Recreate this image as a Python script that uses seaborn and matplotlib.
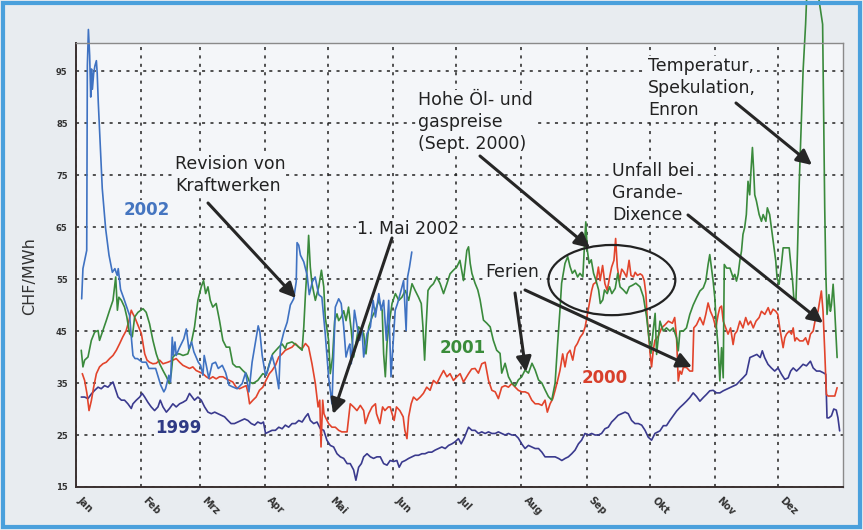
import matplotlib
matplotlib.use('Agg')
import matplotlib.pyplot as plt
import seaborn as sns
import pandas as pd
from matplotlib.patches import Ellipse, Rectangle

# ---------------- data (day of year, CHF/MWh) ----------------
days_2002 = [2.7,3.3,4.6,5.1,5.4,5.9,6.5,7,7.4,7.8,8.4,9,9.7,10.1,10.6,11.4,12.5,14.1,15.7,17.3,18.5,19.6,20.1,21.2,22.8,24.4,25.5,26.5,27.1,28.1,29.2,31.5,33.4,34.7,37.9,40.3,41.8,42.6,44.2,45,45.8,46.3,47.1,47.7,49,51.3,52.5,53.7,55,56.1,58.2,59.3,60.4,61,62,63.2,64.8,66.4,67.7,69.6,71.2,72.8,74.3,76.7,79.1,80.7,82.3,83.8,85.4,86.7,87.5,88.6,90.2,91,93.3,94.9,96.5,97.3,98.9,100.5,102,103.6,104.8,105.2,106,106.8,108.4,110,111,112.5,113.8,115.5,117,118.6,120.2,121.8,123.4,125,126.2,127.4,128.5,129.7,130.3,131,132.5,133.8,135,136,136.9,138.5,140.1,141.4,142.5,144.1,145.2,146.4,147.7,148.8,149.9,150.8,151.9,153,154.3,155.9,157.1,157.8,158.7,159.8]
vals_2002 = [51.2,57,59.6,60.5,96,103,98,90,95.4,91.5,94.5,96,97,94.5,89,82,72.4,64.7,59.6,56.3,57,55.7,57,53,51.2,49.3,48,43,40.3,39.7,39.7,39,39,37.8,37.8,34.6,33.3,33.9,36.5,35.2,43.8,40.3,42.9,40.3,41.6,43.5,45.4,41.6,42.9,41,39,38.4,36.5,40.3,38.4,35.9,38.7,39,37.8,38.4,37,34.6,34.3,33.9,34.9,37,33.3,39,42.9,46,44.8,40.3,36.5,37.1,40.3,37.8,33.9,42.2,44.8,46.7,50,51.2,54.5,62,61.5,59.6,58.3,55.7,52,54.5,55.4,52,51.5,44.5,36.2,31.0,49.6,51.2,50.3,45.8,40,41.9,42.5,38.7,49,45.8,43.2,45.8,40,44.5,45.8,50.9,47.7,52.2,49,50.9,43.2,50.9,36.2,41.9,49,50.3,52.2,54.7,45.1,55.4,57.3,60.2]

days_2001 = [2.5,3.3,4.1,5.7,7.3,8.9,10.5,11.2,12.8,14.4,16,17.6,18.9,19.7,20.4,21.6,23.1,24.2,25.5,26.8,27.9,29.5,31.9,33.4,35,36.6,38.2,39.8,41.4,43,44.5,45.3,46.1,47.7,49.3,50.9,53.2,54.8,56.4,58,59.6,60.7,61.7,62.8,63.9,65.1,66.7,68.3,69.9,71.5,73.1,74.6,76.2,77.8,79.4,81,82.6,84.2,86.5,88.9,90.5,92,93.6,96.5,98.1,99.6,100.4,102.8,105.2,107.6,108.4,109.2,110,110.7,111.5,112.3,113.9,115.5,116.8,117.9,118.6,120.2,121,122.1,123.1,124.2,125,126.2,127.4,128.5,129.7,131,132.1,133.2,134.5,135.8,136.9,138,139.3,140.9,142.5,144.1,145.7,146.4,147.2,148,148.8,150.4,152,153.6,155.1,156.7,158.3,159.9,161.4,163,164.3,165.1,165.9,166.6,167.5,168.6,170.1,171.7,173.3,174.9,176.5,178,179.6,181.2,182.7,184.4,186,186.8,187.6,188.4,189.9,191.2,192.3,193.9,195.5,197.1,198.6,200.2,201.8,202.6,204.2,205.8,207.4,209,210.5,212.1,213.7,215.3,217,218.5,220.1,221.7,223.2,224.8,226.4,228,229.2,230.3,231.1,231.9,232.7,234,235.1,236.2,237.4,238.7,239.8,241.2,242.1,242.6,243.3,244.2,245.2,246.3,247.4,248.7,249.5,250.7,251.5,252.8,253.9,255,256.6,257.8,258.9,260.5,262,263.3,264.8,266.4,268.4,270,271.5,272.6,273.6,274.7,275.6,276.3,277.9,279.5,281,282.6,284.2,285.8,286.6,287.4,289,290.5,292.1,293.7,295.3,296.9,298.5,299.7,300.8,301.6,302.4,303.2,304,304.8,305.6,306.4,307.2,308,308.5,309.6,311.2,312.7,313.5,314.3,315.1,315.9,316.7,317.4,318.2,319,319.8,320.6,321.1,321.9,322.5,323,323.8,325.1,326.2,327,328.3,329,330.1,330.9,332.1,333,333.6,334.6,335.7,336.5,338.1,339.4,340,341,341.6,342.6,343.3,344.2,345.2,346,346.8,347.2,348,352,355.3,355.8,356.3,356.8,357.4,358.3,359,359.5,360.3,361,361.5,362.2]
vals_2001 = [41.3,38.1,39.4,40,43.2,44.8,45.1,43.2,45.1,47,49,50.9,55.4,49,51.5,50.9,49.6,47.7,44.5,43.9,47.7,48.6,49.3,48.6,46.4,43.2,40.6,38.7,37.4,36.2,34.9,36.8,40,40.6,40.6,40.3,40.6,42.6,45.8,50.9,53.5,54.7,52.2,53.5,50.9,49.6,50.3,47,43.2,41.9,41.9,38.7,38.1,38.1,37.4,36.8,35.2,34.9,35.5,36.8,36.5,38.7,40.6,41.9,42.5,41.6,42.6,42.9,42.2,41.3,45.8,52.2,57.3,63.4,57.3,54.1,50.9,53.5,56.7,53.5,47.7,43.2,36.8,40,47,48.3,47,47.7,48.9,47,49.6,45.1,40,42.6,45.8,45.1,44.5,40.6,45.8,47.7,49,50.9,49,40.6,36.2,42.6,45.8,50.3,52.2,50.9,51.5,52.8,50.9,54.1,52.8,51.5,50.3,45.8,39.4,45.8,52.8,53.5,54.1,55.4,54.1,52.2,54.1,56,56.7,57.3,58.6,54.7,60.5,61.2,58,56.1,54.2,52.9,51,47.1,46.5,45.8,43.2,41.3,40.7,36.9,38.8,36.2,35,34.4,35.6,36.2,37.5,36.9,38.8,37.5,35.6,35,33.7,32.4,31.7,35,42.6,49,54.2,56.1,58,59.3,57.4,56.1,56.7,55.4,56.1,55.4,62.5,66,60.6,58,58.7,56.1,54.8,52.9,50.3,51,52.9,52.2,53.5,52.2,53.2,56.1,53.5,52.9,52.2,53.5,53.8,54.2,53.5,51.6,47.8,43.9,40.7,45.2,48.4,40.5,46.9,45,45.6,45,45.6,43.7,41.2,45,45,45.6,48.2,50,51.4,52.7,53.3,54.6,57.8,59.7,57.1,54.6,51.4,45.6,41.8,35.4,41.8,36,57.8,57.1,57.1,55.3,55.9,54.6,55.9,58.5,60.4,63.6,64.9,67.4,73.8,71.2,75.1,80.3,75.8,71.2,70,67.4,66.1,67.4,66.1,68.7,67.4,64.9,61,58.5,55.3,54,57.8,61,61,61,58.5,54.6,51.4,50.8,59.7,73.8,85.4,95,100.8,104,112,113,104,85.4,68.7,56.5,48.2,52,48.8,50,54,49.5,45.6,39.9]

days_2000 = [3,4.1,5.2,6.2,7.3,8.4,9.7,11.2,12.8,14.4,16,17.6,19.2,20.8,22.3,23.9,25.2,26.3,27.1,27.9,29.5,31.1,31.9,32.7,33.8,35,36.6,38.2,39.8,41.4,43.7,46.1,47.7,49.3,50.9,52.5,54,55.6,57.2,58.8,60.4,62,63.6,65.1,66.7,68.3,69.9,71.5,73.1,74.6,76.2,77.8,79.4,81,81.8,82.6,84.2,85.7,87.3,88.9,90.4,92,93.3,94.9,96.5,98.1,99.6,101.2,102.8,104.4,106,107.6,109.2,110.7,112.3,113.9,115.2,116,116.6,117.4,118,118.6,120.2,121.8,123.4,125,126.5,129,130.5,132.1,133.7,135.3,136.9,137.7,139.3,140.9,142.5,143,144.6,145.9,147,148.6,149.5,150.4,151.4,152.5,154.1,155.7,156.5,157.5,158.3,159.5,160.6,162.2,163.8,165.3,166.9,168.5,170.1,171.7,173.3,174.9,176.5,178,179.6,181.2,182.8,184.4,186.8,188.3,189.9,191.5,193.1,194.7,196.3,197.9,199.5,201,202.6,204.2,205.8,207.4,209,210.5,212.1,213.7,215.3,216.9,218.5,220.1,221.7,223.2,224.3,225.6,226.9,228,229.2,230.3,231.6,232.7,233.8,235.1,236.4,237.5,238.6,239.9,241.2,242.3,243.4,244.3,245.4,246.2,247.5,248.6,249.4,250.6,251.7,252.8,254.1,254.9,256,256.8,257.6,258.6,259.7,260.8,262,263.2,264.1,265.3,266.1,267.2,268.5,269.5,270.4,271.2,271.8,272.7,273.2,273.9,274.7,275.5,277.1,278.7,280.3,281.9,283.8,284.9,285.8,286.6,287.4,288.2,289,290.5,292.1,293.4,294,295.3,296.9,298.5,299.7,300.8,301.9,303.2,304.5,305.6,306.4,307.2,308,309.2,310.3,311.5,312.7,313.5,314.6,315.9,317.4,318.7,319.9,321,322.3,323.6,325.1,326.2,327.8,329.4,330.5,331.7,333,334,334.9,335.7,336.5,337.3,338.1,339.4,340.5,341.3,342.1,342.9,344.4,346,347.2,348.4,349.5,350.8,352,353.1,353.9,354.7,355.5,356.3,357.1,357.9,359.5,361.1,362.2]
vals_2000 = [36.8,35.5,33,29.7,31.6,34.2,36.8,38.1,38.7,39,39.7,40.3,41.3,42.6,43.9,45.1,47,49,48.3,47.7,46.1,44.5,42.6,40.6,39.4,39,38.7,38.8,39.4,38.7,39,39.4,39.7,39,38.4,38.1,37.8,38.1,37.4,37.1,36.8,36.2,35.8,36.2,35.8,36.2,36.2,35.8,35.5,35.2,34.2,33.9,34.2,34.5,33.2,31,31.7,32.3,33.6,34.2,35.5,36.8,37.4,38.4,40,40.6,41.3,41.6,41.9,42.6,41.9,41.6,42.6,41.9,38.7,34.9,30.4,31.7,22.7,31.7,29.1,28.5,27.2,26.5,26.5,25.9,25.6,25.6,31,30.4,29.7,30.7,29.7,27.2,29.1,30.4,31,29.1,27.2,30.4,29.7,30.4,30.4,29.1,27.8,30.4,29.7,28.5,25.9,24.3,28.5,31,32.3,31.7,32.3,33,34.2,33.6,35.5,34.9,36.2,37.4,36.2,36.8,35.5,36.2,36.8,35.2,36.8,37.7,37.8,36.9,38.7,39,35.5,33.6,33.3,32,34.2,34.5,34.2,34.9,34.2,33.6,33.3,33.3,33,31.7,31,31,30.7,31.7,29.4,31,32,33.6,35.5,37.4,40.6,38.1,40.6,41.3,39.4,41.9,42.6,43.8,44.5,45.8,48.3,50.3,52.8,54,54.4,57.3,54.7,57.6,54.1,52.8,55.7,57.3,58.6,62.8,57.3,54.7,56.9,56.3,55.4,58.6,55.7,55.4,56.3,55.7,56,55.7,54.7,52.2,47.7,43.2,40.6,38.1,41.3,43.2,44,45.6,46.2,46.9,46.5,47.6,43.7,35.4,37.3,36.7,38,38,37.3,37.3,45.6,46.2,47.6,46.2,48.2,50.4,48.8,47.6,45.6,48.2,49.5,49.8,46.9,45.6,44.4,45.6,42.4,44.4,45,46.9,45.6,47.6,46.2,46.9,45.6,46.9,47.6,48.8,48.2,49.5,48.2,49.2,48.8,48.2,45.6,43.7,41.8,43.7,44.4,45,44.4,45.6,43.1,43.7,43.1,43.1,43.7,42.4,44.4,45,47.6,48.8,50.8,52.7,48.8,41.2,32.8,32.5,32.5,32.5,34.1]

days_1999 = [2.5,4.1,5.7,7.3,8.9,10.5,12,13.6,15.2,16.8,17.6,18.9,20,21.6,23.1,24.7,26.3,27.1,28.7,30.3,31.5,32.7,34.2,35.8,37.4,39,40.1,41.4,43,44.5,46.1,47.7,49.3,50.9,52.5,54,55.3,56.4,58,59.6,61.2,62.8,64.4,66,67.5,69.1,70.7,72.3,73.8,75.4,77,78.6,80.2,81.8,83.4,85,86.5,88.1,89.2,90.2,91.7,93.3,94.9,96.5,98.1,99.6,101.2,102.8,104.4,106,107.6,109.2,110.4,111.5,113.1,114.7,116.3,117.9,119.4,121,122.6,124.2,125.8,127.4,129,130.5,132.1,133.2,134.5,135.8,136.9,138.5,140.1,141.6,143.2,144.8,146.4,148,149.5,151.1,152.7,153.8,155.1,156.7,158.3,159.9,161.4,163,164.6,166.1,167.7,169.3,170.9,172.5,174.1,175.7,177.3,178.9,180.4,182,183.3,184.8,186.8,188.4,189.9,191.5,193.1,194.7,196.3,197.9,199.5,201,202.6,204.2,205.8,207.4,209,210.5,212.1,213.7,215.3,216.9,218.5,220.1,221.7,223.2,224.8,226.4,228,229.6,231.2,232.8,234.3,235.9,237.5,239.1,240.6,242.2,243.8,245.4,247,248.6,250.1,251.7,253.3,254.9,256.4,258,259.6,261.3,262.8,264.4,266,267.6,269.2,270.8,272.3,273.9,275.5,277.9,279.5,281,282.6,284.2,285.8,287.4,289,290.5,292.1,293.7,295.3,296.9,298.5,300,301.6,303.2,304.8,306.4,308,309.6,311.1,312.7,314.3,315.9,317.4,319,320.7,322.3,324,325.6,326.6,327.7,329.3,330.9,332.5,334.1,335.7,337.3,338.9,340.1,341.3,342.9,344.4,346,347.6,349.5,350.8,352.4,354,355.5,356.8,357.4,358.3,359.5,360.6,361.8,362.6,363.4]
vals_1999 = [32.3,32.3,32,32.9,33.6,34.2,33.9,34.5,34.2,34.9,35.2,33.6,32.3,31.7,31.7,31,30.1,31,31.7,32.3,33,32.3,31.3,30.4,29.7,30.4,31.7,30.4,29.4,30.1,31,30.4,31,31.3,31.7,33,32.3,31.7,32.3,31.7,30.4,29.4,29.1,29.4,29.1,28.8,28.5,27.8,27.2,27.2,27.5,27.8,28.1,27.8,27.2,26.9,27.5,27.2,27.5,25.3,25.6,25.9,25.9,26.5,26.2,26.9,26.5,27.2,27.2,27.8,27.5,28.5,29.1,27.8,27.2,27.5,26.2,25.9,24,23,22.7,21.4,20.8,20.5,19.5,19.5,18.3,16.3,18.8,19.5,20.8,21.4,20.8,20.5,20.8,20.8,19.5,19.2,20.1,19.9,20.1,18.8,19.8,20.1,20.5,20.8,21.1,21.1,21.4,21.4,21.7,21.7,22.1,22.4,22.7,22.4,23,23.3,23.7,24.3,23.3,24.5,26.5,25.9,25.9,25.3,25.6,25.3,25.6,25.3,25.3,25.6,25.3,25,25.3,25,25,24.4,23.3,22.4,23,22.7,22.4,22.4,21.7,20.8,20.8,20.8,20.8,20.5,20.1,20.5,20.8,21.4,22.1,23.3,24,25.3,25,25.3,25,25,25.3,26.2,26.5,27.5,28.1,28.8,29.1,29.4,29.1,27.8,27.2,27.2,26.9,25.9,24.6,24,25.3,25.8,26.8,26.8,27.8,28.7,29.6,30.3,30.9,31.5,32.2,33.1,32.4,31.5,32.2,32.8,33.5,33.6,33.1,33.1,33.5,33.8,34.1,34.4,34.7,35.4,36,36.7,39.9,40.2,40.5,39.9,41.2,39.9,38.6,37.9,37.3,37.9,36.7,35.7,36,37.3,37.9,37.3,37.9,38.6,38.3,39.2,37.9,37.3,37.3,37,36.7,28.3,28.3,28.7,30,29.8,28.3,25.8]

years = ['1999', '2000', '2001', '2002']
month_starts = [0, 31, 59, 90, 120, 151, 181, 212, 243, 273, 304, 334]
month_labels = ['Jan', 'Feb', 'Mrz', 'Apr', 'Mai', 'Jun', 'Jul', 'Aug', 'Sep', 'Okt', 'Nov', 'Dez']
y_ticks = [15, 25, 35, 45, 55, 65, 75, 85, 95]

# ---------------- figure ----------------
sns.set_style('white')
plt.rcParams['font.family'] = ['DejaVu Sans']

W, H = 863, 530
BG = '#f4f6f9'
fig = plt.figure(figsize=(W / 100, H / 100), dpi=100, facecolor='#e8ecf0')
ax = fig.add_axes([76 / W, 43 / H, (843 - 76) / W, (487 - 43) / H])
ax.set_facecolor(BG)

df = pd.concat([
    pd.DataFrame({'Tag': days_1999, 'Preis': vals_1999, 'Jahr': '1999'}),
    pd.DataFrame({'Tag': days_2000, 'Preis': vals_2000, 'Jahr': '2000'}),
    pd.DataFrame({'Tag': days_2001, 'Preis': vals_2001, 'Jahr': '2001'}),
    pd.DataFrame({'Tag': days_2002, 'Preis': vals_2002, 'Jahr': '2002'}),
], ignore_index=True)

palette = {'1999': '#3a3a8e', '2000': '#e2442c', '2001': '#3a8a3c', '2002': '#3f72c2'}
sns.lineplot(data=df, x='Tag', y='Preis', hue='Jahr', palette=palette,
             estimator=None, sort=False, linewidth=1.2, legend=False, ax=ax)
for ln in ax.lines:
    ln.set_clip_on(False)

ax.set_xlim(0, 365)
ax.set_ylim(15, 100.4)
ax.set_xticks(month_starts)
ax.set_xticklabels(month_labels, rotation=-45, ha='left', va='top',
                   fontsize=7, fontweight='bold', color='#333333')
ax.set_yticks(y_ticks)
ax.set_yticklabels([str(t) for t in y_ticks], fontsize=6, fontweight='bold', color='#333333')
ax.tick_params(axis='both', length=3, width=1, color='#333333', pad=3)
ax.set_xlabel('')
ax.set_ylabel('')
ax.grid(True, linestyle=(0, (2, 3.5)), color='#222222', linewidth=1.1)
ax.set_axisbelow(True)
for s in ['left', 'bottom']:
    ax.spines[s].set_color('#3a3030')
    ax.spines[s].set_linewidth(1.4)
for s in ['top', 'right']:
    ax.spines[s].set_color('#8a8a8a')
    ax.spines[s].set_linewidth(1.0)

fig.text(30 / W, 1 - 276 / H, 'CHF/MWh', rotation=90, ha='center', va='center',
         fontsize=11.5, color='#333333')

def P(x, y):
    return (x / W, 1 - y / H)

box = dict(facecolor=BG, edgecolor='none', pad=0.5)
TF = fig.transFigure

# series labels
lab = dict(fontsize=12, fontweight='bold', ha='center', va='center', bbox=box,
           transform=TF, zorder=4, clip_on=False)
ax.text(*P(147, 210), '2002', color='#4575c0', **lab)
ax.text(*P(178, 428), '1999', color='#2f3a85', **lab)
ax.text(*P(463, 348), '2001', color='#3a8c3a', **lab)
ax.text(*P(605, 378), '2000', color='#d8402c', **lab)

# annotation texts
txt = dict(fontsize=12.5, color='#222222', ha='left', va='center', linespacing=1.3,
           bbox=box, transform=TF, zorder=4, clip_on=False)
ax.text(*P(175, 175), 'Revision von\nKraftwerken', **txt)
ax.text(*P(357, 229), '1. Mai 2002', **txt)
ax.text(*P(418, 122), 'Hohe Öl- und\ngaspreise\n(Sept. 2000)', **txt)
ax.text(*P(485, 272), 'Ferien', **txt)
ax.text(*P(612, 193), 'Unfall bei\nGrande-\nDixence', **txt)
ax.text(*P(648, 88), 'Temperatur,\nSpekulation,\nEnron', **txt)

arrows = [((208, 203), (296, 298)),
          ((392, 238), (333, 414)),
          ((480, 156), (590, 248)),
          ((515, 293), (526, 372)),
          ((525, 290), (692, 367)),
          ((688, 215), (823, 323)),
          ((736, 103), (812, 165))]
for tail, head in arrows:
    ax.annotate('', xy=P(*head), xytext=P(*tail),
                xycoords='figure fraction', textcoords='figure fraction',
                arrowprops=dict(arrowstyle='-|>,head_length=0.9,head_width=0.45',
                                color='#262626', lw=2.2, shrinkA=0, shrinkB=0),
                annotation_clip=False, zorder=6)

# ellipse around Sept. 2000 peak (center ~ day 255, 54.8 CHF)
ell = Ellipse((255, 54.8), width=60.4, height=13.5, fill=False,
              edgecolor='#222222', lw=1.6, clip_on=False, zorder=5)
ax.add_patch(ell)

# blue frame of the figure
fig.patches.append(Rectangle((0.004, 0.005), 0.992, 0.99, transform=fig.transFigure,
                             fill=False, edgecolor='#4aa0dc', lw=3))

fig.savefig('out.png', dpi=100, facecolor=fig.get_facecolor())
